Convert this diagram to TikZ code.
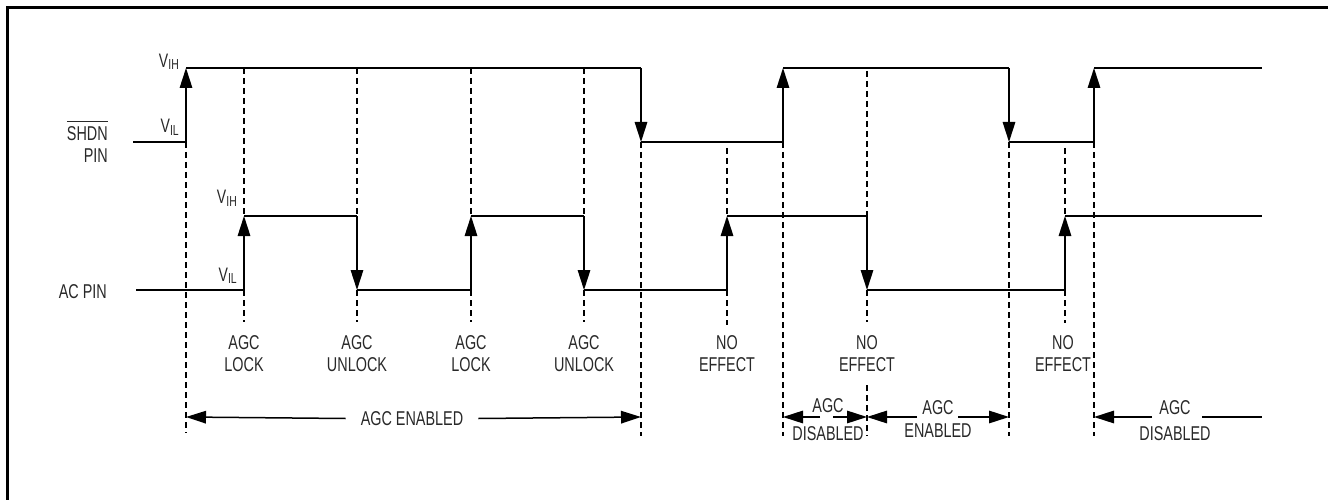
\documentclass[tikz,border=0pt]{standalone}
\usepackage{fontspec}
\setmainfont{Liberation Sans}[FakeStretch=0.72]
\usetikzlibrary{arrows.meta}
\definecolor{txt}{RGB}{40,40,40}
\newcommand\volt[1]{V\raisebox{-2pt}{\fontsize{14.5}{14.5}\selectfont #1}}
\newcommand\ovl[1]{\leavevmode\vbox{\hrule height 1pt\kern 5pt\hbox{#1}}}
\begin{document}
\begin{tikzpicture}[x=1pt,y=-1pt,
  sig/.style={line width=1.5pt, draw=black},
  edgearr/.style={sig, -{Triangle[length=20pt,width=12.5pt]}},
  dimarr/.style={line width=1.5pt, -{Triangle[length=20pt,width=12.5pt]}},
  dsh/.style={line width=1.3pt, dash pattern=on 6pt off 4pt},
  lbl/.style={font=\fontsize{20}{22}\selectfont, inner sep=0pt, text=txt, align=center},
  vlbl/.style={font=\fontsize{19.5}{19.5}\selectfont, inner sep=0pt, text=txt, anchor=base east}]
\useasboundingbox (0,0) rectangle (1328,500);
% frame
\draw[line width=3pt] (7,501) -- (7,7.5) -- (1329,7.5);

% SHDN waveform
\draw[sig] (133,142) -- (186,142);
\draw[edgearr] (186,142) -- (186,68);
\draw[sig] (186,68) -- (641,68);
\draw[edgearr] (641,68) -- (641,142);
\draw[sig] (641,142) -- (783,142);
\draw[edgearr] (783,142) -- (783,68);
\draw[sig] (783,68) -- (1009,68);
\draw[edgearr] (1009,68) -- (1009,142);
\draw[sig] (1009,142) -- (1094,142);
\draw[edgearr] (1094,142) -- (1094,68);
\draw[sig] (1094,68) -- (1262,68);

% AC waveform
\draw[sig] (136,290) -- (244,290);
\draw[edgearr] (244,290) -- (244,216);
\draw[sig] (244,216) -- (357,216);
\draw[edgearr] (357,216) -- (357,290);
\draw[sig] (357,290) -- (471,290);
\draw[edgearr] (471,290) -- (471,216);
\draw[sig] (471,216) -- (584,216);
\draw[edgearr] (584,216) -- (584,290);
\draw[sig] (584,290) -- (727,290);
\draw[edgearr] (727,290) -- (727,216);
\draw[sig] (727,216) -- (867,216);
\draw[edgearr] (867,216) -- (867,290);
\draw[sig] (867,290) -- (1065,290);
\draw[edgearr] (1065,290) -- (1065,216);
\draw[sig] (1065,216) -- (1262,216);

% dashed guide lines
\draw[dsh] (186,142) -- (186,433);
\foreach \x in {244,357,471,584}{
  \draw[dsh] (\x,68) -- (\x,216);
  \draw[dsh] (\x,290) -- (\x,322);
}
\draw[dsh] (727,148) -- (727,216);
\draw[dsh] (727,290) -- (727,325);
\draw[dsh] (1065,148) -- (1065,216);
\draw[dsh] (1065,290) -- (1065,323);
\draw[dsh] (867,71) -- (867,216);
\draw[dsh] (867,290) -- (867,322);
\draw[dsh] (867,385) -- (867,436);
\foreach \x in {641,783,1009,1094}{
  \draw[dsh] (\x,142) -- (\x,436);
}

% signal labels
\node[lbl, anchor=north east, align=right] (shdn) at (108,120.5) {\ovl{SHDN}\\PIN};
\node[lbl, anchor=base east] (acpin) at (107,298) {AC PIN};
\node[vlbl] (vih1) at (179,68) {\volt{IH}};
\node[vlbl] (vil1) at (179,133) {\volt{IL}};
\node[vlbl] (vih2) at (237,204) {\volt{IH}};
\node[vlbl] (vil2) at (237,281) {\volt{IL}};

% edge labels
\node[lbl, anchor=north] (lk1) at (244,335) {AGC\\LOCK};
\node[lbl, anchor=north] (ul1) at (357,335) {AGC\\UNLOCK};
\node[lbl, anchor=north] (lk2) at (471,335) {AGC\\LOCK};
\node[lbl, anchor=north] (ul2) at (584,335) {AGC\\UNLOCK};
\node[lbl, anchor=north] (ne1) at (727,335) {NO\\EFFECT};
\node[lbl, anchor=north] (ne2) at (867,335) {NO\\EFFECT};
\node[lbl, anchor=north] (ne3) at (1063,335) {NO\\EFFECT};

% bottom state arrows
\coordinate (b186) at (186,417);
\coordinate (b641) at (641,417);
\coordinate (b783) at (783,417);
\coordinate (b867) at (867,417);
\coordinate (b1009) at (1009,417);
\coordinate (b1094) at (1094,417);
\coordinate (bend) at (1262,417);

\node[lbl, inner xsep=15pt] (en1) at (412,418.5) {AGC ENABLED};
\draw[dimarr] (en1.west) -- (b186);
\draw[dimarr] (en1.east) -- (b641);

\node[lbl, anchor=north] (dis1) at (828,398) {AGC\\[6pt]DISABLED};
\coordinate (d1l) at (820,417);
\coordinate (d1r) at (833,417);
\draw[dimarr] (d1l) -- (b783);
\draw[dimarr] (d1r) -- (b867);

\node[lbl, anchor=north] (en2) at (938,400) {AGC\\[1pt]ENABLED};
\coordinate (e2l) at (917,417);
\coordinate (e2r) at (958,417);
\draw[dimarr] (e2l) -- (b867);
\draw[dimarr] (e2r) -- (b1009);

\node[lbl, anchor=north] (dis2) at (1175,400) {AGC\\[4pt]DISABLED};
\coordinate (d2l) at (1152,417);
\coordinate (d2r) at (1202,417);
\draw[dimarr] (d2l) -- (b1094);
\draw[line width=1.5pt] (d2r) -- (bend);
\end{tikzpicture}
\end{document}
